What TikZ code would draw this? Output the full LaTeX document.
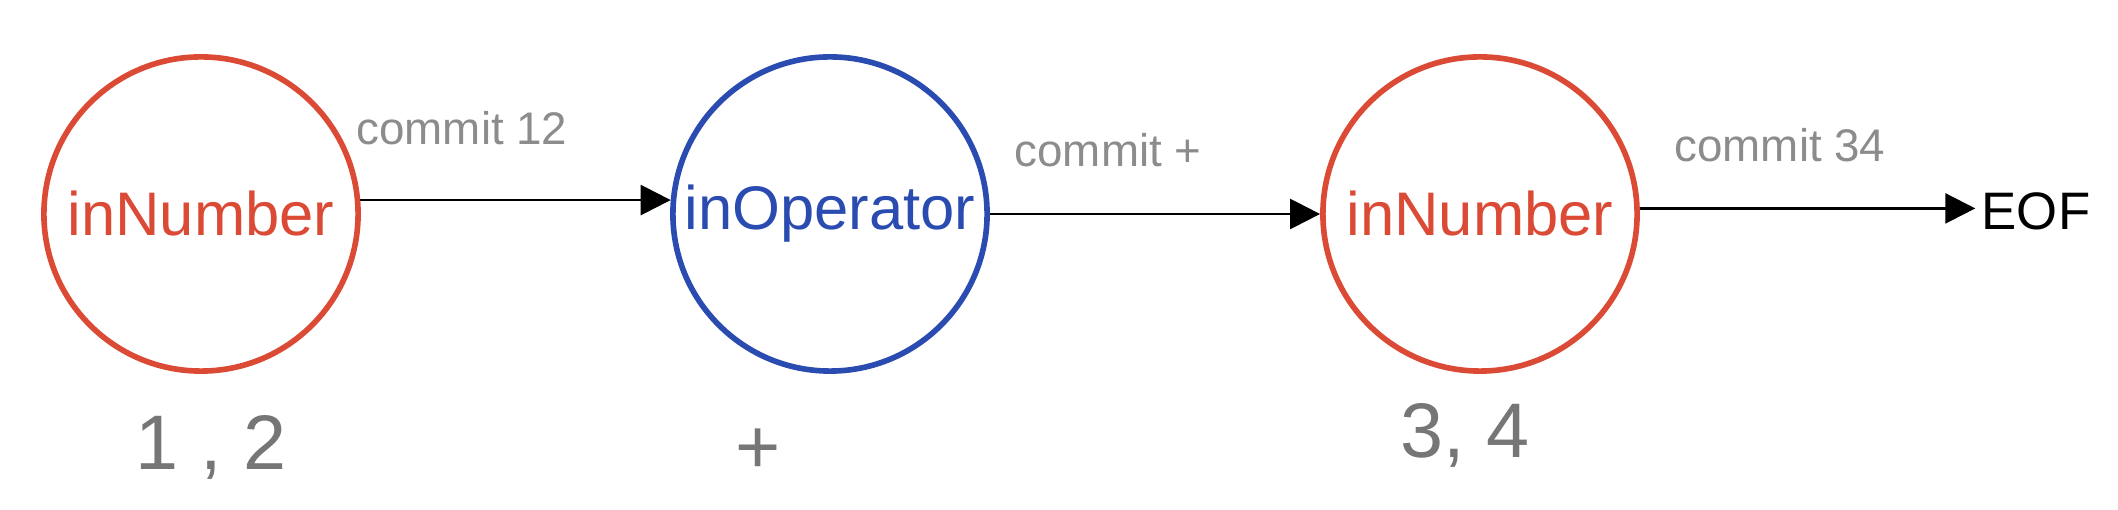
\documentclass[tikz,border=0pt]{standalone}
\usepackage{fontspec}
\setmainfont{Liberation Sans}
\usetikzlibrary{arrows.meta}
\definecolor{cred}{HTML}{DB4A35}
\definecolor{cblue}{HTML}{2A4BB0}
\definecolor{cpencil}{HTML}{8C8C8C}
\definecolor{cgrey}{HTML}{767676}
\tikzset{
  every picture/.style={line width=0.7pt},
  state/.style={circle, draw=#1, text=#1, line width=1.6pt, minimum size=3.14cm, inner sep=0pt, font=\fontsize{17.5}{17.5}\selectfont},
  state/.default=cred,
  arrow/.style={-{Triangle[length=3mm, width=3mm]}, draw=black, line width=0.7pt},
  note/.style={text=cpencil, font=\fontsize{13}{13}\selectfont},
  token/.style={text=cgrey, font=\fontsize{22}{22}\selectfont},
}

\begin{document}
\begin{tikzpicture}[x=0.01cm, y=-0.01cm]
  \useasboundingbox (0,0) rectangle (2118,510);
  % states
  \node[state] (num1) at (201,214) {inNumber};
  \node[state=cblue] (oper) at (830,214) {inOperator};
  \node[state] (num2) at (1480,214) {inNumber};
  \node[font=\fontsize{15}{15}\selectfont, inner sep=1.5pt] (eof) at (2036,211) {EOF};
  % transitions
  \draw[arrow] (num1.5) -- (oper.175);
  \draw[arrow] (oper.east) -- (num2.west);
  \draw[arrow] (num2.2) -- (num2.2 -| eof.west);
  \node[note] (c12) at (462,128) {commit 12};
  \node[note] (cop) at (1108,150) {commit +};
  \node[note] (c34) at (1780,145) {commit 34};
  % tokens read
  \node[token] (t12) at (211,447) {1 , 2};
  \node[token] (tplus) at (758,451) {+};
  \node[token] (t34) at (1465,435) {3, 4};
\end{tikzpicture}
\end{document}
